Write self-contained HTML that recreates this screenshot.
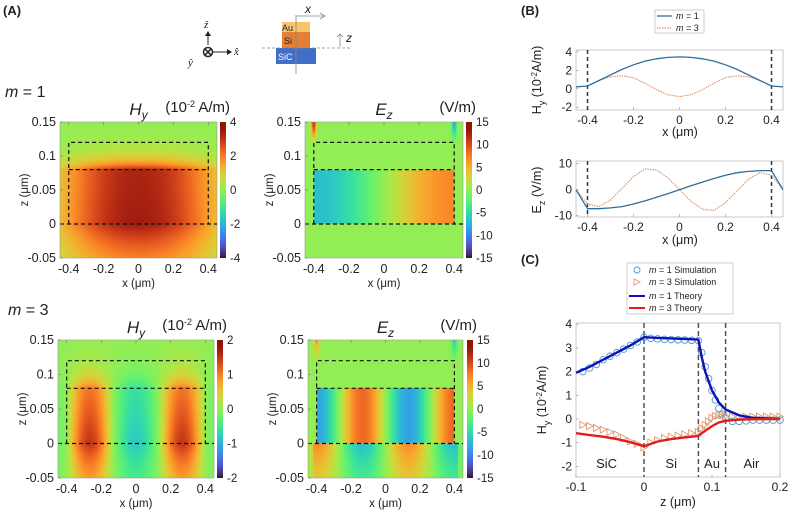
<!DOCTYPE html>
<html><head><meta charset="utf-8">
<style>
body{margin:0;background:#fff;}
#wrap{position:relative;width:792px;height:513px;overflow:hidden;font-family:"Liberation Sans",sans-serif;}
svg{position:absolute;left:0;top:0;}
canvas{position:absolute;}
</style></head>
<body>
<div id="wrap">
<canvas id="c1" style="left:60px;top:122px" width="157" height="136"></canvas>
<canvas id="c2" style="left:305px;top:122px" width="158" height="136"></canvas>
<canvas id="c3" style="left:58px;top:340px" width="156" height="138"></canvas>
<canvas id="c4" style="left:308px;top:340px" width="155" height="138"></canvas>
<canvas id="cb1" style="left:220px;top:122px" width="6" height="136"></canvas>
<canvas id="cb2" style="left:466px;top:122px" width="6" height="136"></canvas>
<canvas id="cb3" style="left:217px;top:340px" width="6" height="138"></canvas>
<canvas id="cb4" style="left:467px;top:340px" width="6" height="138"></canvas>
<svg id="s" width="792" height="513"></svg>
</div>
<script>
// ---- Panel B data ----
const bX = [-0.45,-0.4,-0.35,-0.3,-0.25,-0.2,-0.15,-0.1,-0.05,0,0.05,0.1,0.15,0.2,0.25,0.3,0.35,0.4,0.45];
const bHy1 = [0.2,0.3,0.9,1.5,2.1,2.6,3.0,3.25,3.4,3.45,3.4,3.25,3.0,2.6,2.1,1.5,0.9,0.3,0.2];
const bHy3 = [0.2,0.3,0.9,1.3,1.4,1.2,0.6,-0.1,-0.65,-0.85,-0.65,-0.1,0.6,1.2,1.4,1.3,0.9,0.3,0.2];
const bEz1 = [0,-7.3,-7.3,-7,-6.5,-5.5,-4.3,-2.9,-1.5,0,1.5,2.9,4.3,5.5,6.5,7,7.3,7.3,0];
const bEz3 = [0,-5.5,-6.5,-4,0.5,5,8,7.5,4.5,0,-4.5,-7.5,-8,-5,-0.5,4,6.5,5.5,0];
// ---- Panel C data ----
const cZ = [-0.1,-0.08,-0.06,-0.04,-0.02,0,0.02,0.04,0.06,0.08,0.085,0.09,0.1,0.11,0.12,0.14,0.16,0.2];
const cTh1 = [1.95,2.2,2.5,2.8,3.1,3.45,3.42,3.4,3.38,3.35,2.6,2.0,1.2,0.7,0.4,0.15,0.05,0];
const cTh3 = [-0.6,-0.68,-0.75,-0.85,-0.98,-1.15,-0.95,-0.85,-0.78,-0.72,-0.6,-0.5,-0.3,-0.15,-0.08,-0.03,-0.01,0];
const sZ = [-0.09,-0.08,-0.07,-0.06,-0.05,-0.04,-0.03,-0.02,-0.01,0,0.01,0.02,0.03,0.04,0.05,0.06,0.07,0.08,0.085,0.09,0.095,0.1,0.105,0.11,0.115,0.12,0.13,0.14,0.15,0.16,0.17,0.18,0.19,0.2];
const sM1 = [2.0,2.15,2.3,2.5,2.65,2.8,2.95,3.1,3.25,3.45,3.4,3.38,3.36,3.35,3.34,3.33,3.32,3.3,2.8,2.2,1.7,1.2,0.8,0.45,0.2,0.05,-0.1,-0.1,-0.08,-0.05,-0.05,-0.05,-0.05,-0.05];
const sM3 = [-0.25,-0.3,-0.38,-0.45,-0.55,-0.65,-0.8,-0.95,-1.05,-1.2,-1.0,-0.9,-0.8,-0.75,-0.7,-0.65,-0.6,-0.55,-0.4,-0.25,-0.1,0.05,0.12,0.15,0.15,0.12,0.1,0.1,0.1,0.1,0.1,0.1,0.1,0.1];
const cTicksY = [4,3,2,1,0,-1,-2];
const cTicksX = [-0.1,0,0.1,0.2];
// ---- Heatmap mode parameters ----
const hmRanges = [4,15,2,15];

function turbo(t){t=Math.max(0,Math.min(1,t));
 const r=0.13572138+t*(4.61539260+t*(-42.66032258+t*(132.13108234+t*(-152.94239396+t*59.28637943))));
 const g=0.09140261+t*(2.19418839+t*(4.84296658+t*(-14.18503333+t*(4.27729857+t*2.82956604))));
 const b=0.10667330+t*(12.64194608+t*(-60.58204836+t*(110.36276771+t*(-89.90310912+t*27.34824973))));
 return [r*255,g*255,b*255].map(v=>Math.max(0,Math.min(255,v*0.9+12)));}

function fHy1(x,z){let a=Math.cos(Math.PI*x/1.15);a=Math.max(a,0);let zf;
 if(z<0) zf=Math.exp(z/0.09); else if(z<=0.08) zf=1-0.05*z/0.08; else zf=0.95*Math.exp(-(z-0.08)/0.015);
 return 3.45*a*zf;}
function fEz1(x,z){let v=0;if(z>=0&&z<=0.08&&Math.abs(x)<=0.4){v=7.3*Math.sin(Math.PI*x/0.8)*0.9+0.7*x/0.4*0.1*7;}
 if(z>0.12){v+= 12*Math.exp(-((x+0.4)**2)/0.0002-((z-0.15)**2)/0.0005)-8*Math.exp(-((x-0.4)**2)/0.0002-((z-0.15)**2)/0.0005);}
 return v;}
function fHy3(x,z){let a=-Math.cos(3*Math.PI*x/0.8);a=a>0?a*1.5:a*0.85;let zf;
 if(z<0) zf=Math.exp(z/0.08); else if(z<=0.08) zf=1-0.3*z/0.08; else zf=0.7*Math.exp(-(z-0.08)/0.02);
 if(Math.abs(x)>0.4) a*=Math.exp(-(Math.abs(x)-0.4)/0.05);
 return a*zf;}
function fEz3(x,z){let v=0;const s=-Math.sin(3*Math.PI*x/0.8);
 if(z>=0&&z<=0.08&&Math.abs(x)<=0.4) v=8.5*s;
 else if(z<0) v=-7*s*Math.exp(z/0.08)*(Math.abs(x)<=0.42?1:0.3);
 if(z>0.12){v+=5*Math.exp(-((x+0.4)**2)/0.0003-((z-0.15)**2)/0.0006)-5*Math.exp(-((x-0.4)**2)/0.0003-((z-0.15)**2)/0.0006);}
 return v;}

function drawHM(id,f,range){const c=document.getElementById(id),ctx=c.getContext('2d');const W=c.width,H=c.height;
 const img=ctx.createImageData(W,H);
 for(let j=0;j<H;j++)for(let i=0;i<W;i++){const x=-0.45+0.9*(i+0.5)/W,z=0.15-0.2*(j+0.5)/H;
  const col=turbo(0.5+f(x,z)/(2*range));const k=(j*W+i)*4;img.data[k]=col[0];img.data[k+1]=col[1];img.data[k+2]=col[2];img.data[k+3]=255;}
 ctx.putImageData(img,0,0);}
function drawCB(id){const c=document.getElementById(id),ctx=c.getContext('2d');
 for(let j=0;j<c.height;j++){const col=turbo(1-j/(c.height-1));ctx.fillStyle=`rgb(${col[0]|0},${col[1]|0},${col[2]|0})`;ctx.fillRect(0,j,c.width,1);}}
drawHM('c1',fHy1,hmRanges[0]);drawHM('c2',fEz1,hmRanges[1]);drawHM('c3',fHy3,hmRanges[2]);drawHM('c4',fEz3,hmRanges[3]);
['cb1','cb2','cb3','cb4'].forEach(drawCB);

const S=document.getElementById('s');const NS='http://www.w3.org/2000/svg';
function el(tag,attrs,txt){const e=document.createElementNS(NS,tag);for(const k in attrs)e.setAttribute(k,attrs[k]);if(txt!==undefined)e.textContent=txt;S.appendChild(e);return e;}
function txt(x,y,s,size,name,extra){const e=el('text',Object.assign({x:x,y:y,'font-size':size,fill:'#222'},extra||{}),s);
 
 return e;}

txt(3,15,'(A)',13,'panel-a-label',{'font-weight':'bold'});
txt(521,15,'(B)',13,'panel-b-label',{'font-weight':'bold'});
txt(521,264,'(C)',13,'panel-c-label',{'font-weight':'bold'});
el('line',{x1:208,y1:45,x2:208,y2:34,stroke:'#222','stroke-width':1});
el('path',{d:'M205,36 L208,31 L211,36 Z',fill:'#222'});
el('line',{x1:213,y1:52,x2:229,y2:52,stroke:'#222','stroke-width':1});
el('path',{d:'M227,49 L232,52 L227,55 Z',fill:'#222'});
el('circle',{cx:208,cy:52,r:4.5,fill:'none',stroke:'#222','stroke-width':1.5});
el('path',{d:'M205,49 L211,55 M211,49 L205,55',stroke:'#222','stroke-width':1.5});
txt(204,28,'ẑ',11,'z-hat',{'font-family':'Liberation Serif','font-style':'italic'});
txt(234,55,'x̂',11,'x-hat',{'font-family':'Liberation Serif','font-style':'italic'});
txt(188,66,'ŷ',11,'y-hat',{'font-family':'Liberation Serif','font-style':'italic'});
el('rect',{x:282,y:22,width:28,height:10,fill:'#f6c46a'});
el('rect',{x:282,y:32,width:28,height:16,fill:'#e37f36'});
el('rect',{x:276,y:48,width:40,height:16,fill:'#3f6fc9'});
txt(282,31,'Au',9,'au-layer-label');txt(284,44,'Si',9,'si-layer-label');txt(278,60,'SiC',9,'sic-layer-label',{fill:'#fff'});
el('line',{x1:262,y1:48,x2:350,y2:48,stroke:'#888','stroke-width':0.8,'stroke-dasharray':'3,2'});
el('line',{x1:296,y1:15,x2:296,y2:74,stroke:'#888','stroke-width':0.8});
el('path',{d:'M296,16 L324,16 M320,13 L325,16 L320,19',stroke:'#888','stroke-width':0.8,fill:'none'});
txt(305,13,'x',12,'x-axis-symbol',{'font-style':'italic'});
el('path',{d:'M340,47 L340,34 M337,37 L340,34 L343,37',stroke:'#888','stroke-width':0.8,fill:'none'});
txt(346,42,'z',12,'z-axis-symbol',{'font-style':'italic'});

function hmAxes(L,T,W,H,cbx,title,unit,cbTicks,name){
 const xs=x=>L+(x+0.45)/0.9*W, zs=z=>T+(0.15-z)/0.2*H;
 el('rect',{x:L,y:T,width:W,height:H,fill:'none',stroke:'#999','stroke-width':0.6});
 el('path',{d:`M${xs(-0.4)},${zs(0)} L${xs(-0.4)},${zs(0.12)} L${xs(0.4)},${zs(0.12)} L${xs(0.4)},${zs(0)}`,fill:'none',stroke:'#111','stroke-width':1.2,'stroke-dasharray':'4,3'});
 el('line',{x1:xs(-0.4),y1:zs(0.08),x2:xs(0.4),y2:zs(0.08),stroke:'#111','stroke-width':1.2,'stroke-dasharray':'4,3'});
 el('line',{x1:L,y1:zs(0),x2:L+W,y2:zs(0),stroke:'#111','stroke-width':1.2,'stroke-dasharray':'4,3'});
 [0.15,0.1,0.05,0,-0.05].forEach(v=>{txt(L-4,zs(v)+4,String(v),12.5,name+'-ytick',{'text-anchor':'end'});
  el('line',{x1:L,y1:zs(v),x2:L+3,y2:zs(v),stroke:'#777','stroke-width':0.6});});
 [-0.4,-0.2,0,0.2,0.4].forEach(v=>{txt(xs(v),T+H+15,String(v),12.5,name+'-xtick',{'text-anchor':'middle'});
  el('line',{x1:xs(v),y1:T,x2:xs(v),y2:T+3,stroke:'#777','stroke-width':0.6});});
 txt(L+W/2,T+H+29,'x (μm)',11.5,name+'-xlabel',{'text-anchor':'middle'});
 txt(0,0,'z (μm)',11.5,name+'-ylabel',{'text-anchor':'middle',transform:`translate(${L-32},${T+H/2}) rotate(-90)`});
 const t=txt(L+W/2,T-7,'',17,name+'-title',{'text-anchor':'middle','font-style':'italic'});
 t.innerHTML=title[0]+'<tspan font-size="12" dy="4">'+title[1]+'</tspan>';
 const u=txt(cbx+10,T-10,'',15,name+'-unit',{'text-anchor':'end'});u.innerHTML=unit;
 cbTicks.forEach((v,i)=>{txt(cbx+10,T+4+i*H/(cbTicks.length-1),String(v),11.5,name+'-cbtick');});
}
hmAxes(60,122,157,136,220,['H','y'],'(10<tspan font-size="9" dy="-5">-2</tspan><tspan dy="5"> A/m)</tspan>',[4,2,0,-2,-4],'hy-m1');
hmAxes(305,122,158,136,466,['E','z'],'(V/m)',[15,10,5,0,-5,-10,-15],'ez-m1');
hmAxes(58,340,156,138,217,['H','y'],'(10<tspan font-size="9" dy="-5">-2</tspan><tspan dy="5"> A/m)</tspan>',[2,1,0,-1,-2],'hy-m3');
hmAxes(308,340,155,138,467,['E','z'],'(V/m)',[15,10,5,0,-5,-10,-15],'ez-m3');
const m1=txt(5,97,'',16,'m1-label');m1.innerHTML='<tspan font-style="italic">m</tspan> = 1';
const m3=txt(8,315,'',16,'m3-label');m3.innerHTML='<tspan font-style="italic">m</tspan> = 3';

function linePlot(L,T,W,H,xmin,xmax,ymin,ymax,xt,yt,name){
 const xs=x=>L+(x-xmin)/(xmax-xmin)*W, ys=y=>T+(ymax-y)/(ymax-ymin)*H;
 el('rect',{x:L,y:T,width:W,height:H,fill:'#fff',stroke:'#bbb','stroke-width':0.8});
 yt.forEach(v=>{txt(L-4,ys(v)+4,String(v),12,name+'-ytick',{'text-anchor':'end'});el('line',{x1:L,y1:ys(v),x2:L+3,y2:ys(v),stroke:'#999','stroke-width':0.6});});
 xt.forEach(v=>{txt(xs(v),T+H+14,String(v),12,name+'-xtick',{'text-anchor':'middle'});el('line',{x1:xs(v),y1:T+H,x2:xs(v),y2:T+H-3,stroke:'#999','stroke-width':0.6});});
 return {xs,ys};}
function poly(ax,X,Y,attrs,name){const d=X.map((x,i)=>(i?'L':'M')+ax.xs(x).toFixed(1)+','+ax.ys(Y[i]).toFixed(1)).join(' ');
 const p=el('path',Object.assign({d:d,fill:'none'},attrs));return p;}

const b1=linePlot(576,50,207,60,-0.45,0.45,-2.3,4.2,[-0.4,-0.2,0,0.2,0.4],[4,2,0,-2],'b-hy');
[-0.4,0.4].forEach(v=>el('line',{x1:b1.xs(v),y1:50,x2:b1.xs(v),y2:110,stroke:'#333','stroke-width':1.5,'stroke-dasharray':'4,3'}));
poly(b1,bX,bHy3,{stroke:'#d9875a','stroke-width':1,'stroke-dasharray':'1.5,1'},'b-hy-m3-line');
poly(b1,bX,bHy1,{stroke:'#2e6f9e','stroke-width':1.3},'b-hy-m1-line');
txt(680,136,'x (μm)',12.5,'b-hy-xlabel',{'text-anchor':'middle'});
const by1=txt(0,0,'',12.5,'b-hy-ylabel',{'text-anchor':'middle',transform:'translate(541,80) rotate(-90)'});by1.innerHTML='H<tspan font-size="9" dy="4">y</tspan><tspan dy="-4"> (10</tspan><tspan font-size="8" dy="-4">-2</tspan><tspan dy="4">A/m)</tspan>';
el('rect',{x:655,y:10,width:49,height:23,fill:'#fff',stroke:'#bbb','stroke-width':0.7});
el('line',{x1:657,y1:16,x2:672,y2:16,stroke:'#2e6f9e','stroke-width':1.3});
el('line',{x1:657,y1:28,x2:672,y2:28,stroke:'#d9875a','stroke-width':1,'stroke-dasharray':'1.5,1'});
const lb1=txt(676,19,'',9,'b-legend-m1');lb1.innerHTML='<tspan font-style="italic">m</tspan> = 1';
const lb2=txt(676,31,'',9,'b-legend-m3');lb2.innerHTML='<tspan font-style="italic">m</tspan> = 3';
const b2=linePlot(576,161,207,56,-0.45,0.45,-10.5,11,[-0.4,-0.2,0,0.2,0.4],[10,0,-10],'b-ez');
[-0.4,0.4].forEach(v=>el('line',{x1:b2.xs(v),y1:161,x2:b2.xs(v),y2:217,stroke:'#333','stroke-width':1.5,'stroke-dasharray':'4,3'}));
poly(b2,bX,bEz3,{stroke:'#d9875a','stroke-width':1,'stroke-dasharray':'1.5,1'},'b-ez-m3-line');
poly(b2,bX,bEz1,{stroke:'#2e6f9e','stroke-width':1.3},'b-ez-m1-line');
txt(680,244,'x (μm)',12.5,'b-ez-xlabel',{'text-anchor':'middle'});
const by2=txt(0,0,'',12.5,'b-ez-ylabel',{'text-anchor':'middle',transform:'translate(541,190) rotate(-90)'});by2.innerHTML='E<tspan font-size="9" dy="4">z</tspan><tspan dy="-4"> (V/m)</tspan>';

const cA=linePlot(576,323,204,154,-0.1,0.2,-2.45,4.05,cTicksX,cTicksY,'c');
[0,0.08,0.12].forEach(v=>el('line',{x1:cA.xs(v),y1:323,x2:cA.xs(v),y2:477,stroke:'#555','stroke-width':1.5,'stroke-dasharray':'5,3'}));
sZ.forEach((z,i)=>{const c=el('circle',{cx:cA.xs(z),cy:cA.ys(sM1[i]),r:3.3,fill:'none',stroke:'#4a9ad0','stroke-width':0.9});
 
 const x=cA.xs(z),y=cA.ys(sM3[i]);const t=el('path',{d:`M${x-3},${y-3.5} L${x+3.5},${y} L${x-3},${y+3.5} Z`,fill:'none',stroke:'#e0956a','stroke-width':0.9});
 });
poly(cA,cZ,cTh1,{stroke:'#1010b8','stroke-width':2.4},'c-m1-theory-line');
poly(cA,cZ,cTh3,{stroke:'#e21d1d','stroke-width':2.4},'c-m3-theory-line');
txt(cA.xs(-0.055),468,'SiC',13,'region-sic',{'text-anchor':'middle'});
txt(cA.xs(0.04),468,'Si',13,'region-si',{'text-anchor':'middle'});
txt(cA.xs(0.1),468,'Au',13,'region-au',{'text-anchor':'middle'});
txt(cA.xs(0.158),468,'Air',13,'region-air',{'text-anchor':'middle'});
txt(678,506,'z (μm)',12.5,'c-xlabel',{'text-anchor':'middle'});
const cy=txt(0,0,'',12.5,'c-ylabel',{'text-anchor':'middle',transform:'translate(546,400) rotate(-90)'});cy.innerHTML='H<tspan font-size="9" dy="4">y</tspan><tspan dy="-4"> (10</tspan><tspan font-size="8" dy="-4">-2</tspan><tspan dy="4">A/m)</tspan>';
el('rect',{x:627,y:263,width:106,height:51,fill:'#fff',stroke:'#bbb','stroke-width':0.7});
el('circle',{cx:637,cy:270,r:3,fill:'none',stroke:'#4a9ad0','stroke-width':0.9});
el('path',{d:'M634,279 L640,282 L634,285 Z',fill:'none',stroke:'#e0956a','stroke-width':0.9});
el('line',{x1:629,y1:296,x2:645,y2:296,stroke:'#1010b8','stroke-width':2});
el('line',{x1:629,y1:308,x2:645,y2:308,stroke:'#e21d1d','stroke-width':2});
[['<tspan font-style="italic">m</tspan> = 1 Simulation',273],['<tspan font-style="italic">m</tspan> = 3 Simulation',285],['<tspan font-style="italic">m</tspan> = 1 Theory',299],['<tspan font-style="italic">m</tspan> = 3 Theory',311]].forEach((a,i)=>{
 const t=txt(649,a[1],'',9,'c-legend-entry');t.innerHTML=a[0];});
</script>
</body></html>
